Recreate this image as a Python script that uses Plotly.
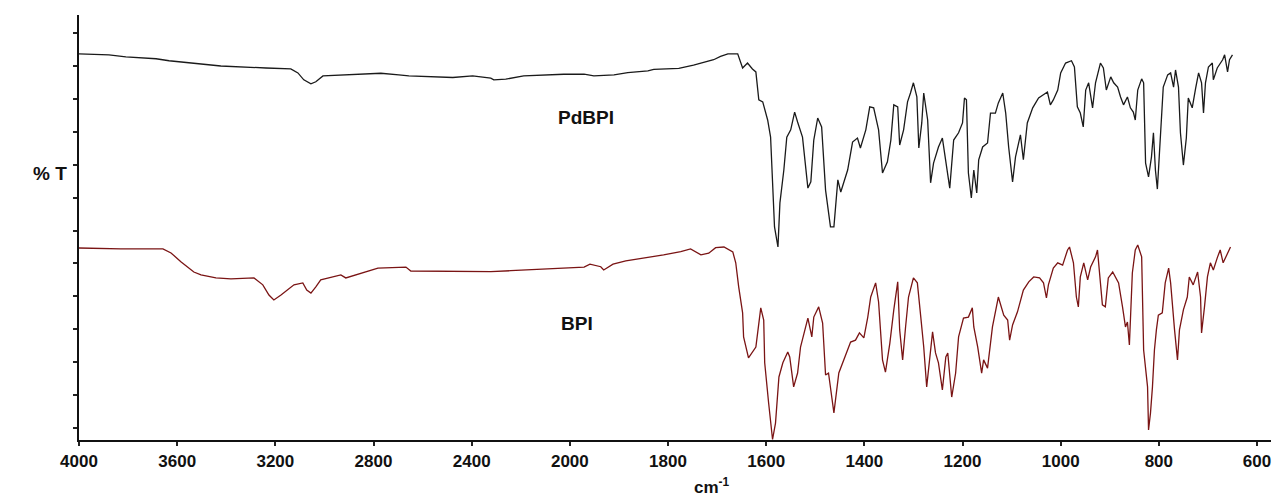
import numpy as np
import plotly.graph_objects as go

# FTIR spectra (wavenumber in cm-1, transmittance in arbitrary offset units)
pdbpi_wn = [4000, 3878, 3809, 3686, 3633, 3544, 3422, 3238, 3137, 3108, 3084, 3055, 3035, 3006,
            2913, 2791, 2770, 2697, 2656, 2477, 2396, 2322, 2310, 2261, 2188, 2025,
            1971, 1951, 1910, 1882, 1841, 1829, 1778, 1748, 1733, 1707, 1693, 1678, 1658,
            1648, 1638, 1628, 1621, 1615, 1607, 1597, 1591, 1587, 1583, 1576, 1572, 1564,
            1558, 1550, 1542, 1536, 1526, 1515, 1509, 1503, 1495, 1487, 1479, 1469, 1462,
            1454, 1448, 1434, 1424, 1414, 1408, 1397, 1389, 1381, 1371, 1363, 1353, 1346,
            1340, 1332, 1328, 1320, 1312, 1306, 1300, 1293, 1289, 1283, 1279, 1271, 1265,
            1259, 1249, 1241, 1234, 1226, 1218, 1208, 1200, 1196, 1192, 1188, 1182, 1177,
            1171, 1167, 1159, 1149, 1143, 1133, 1127, 1118, 1112, 1106, 1098, 1092, 1082,
            1076, 1068, 1057, 1045, 1027, 1021, 1015, 1006, 1000, 990, 978, 972, 966, 960,
            954, 949, 943, 935, 929, 919, 913, 907, 898, 892, 884, 878, 872, 864, 858, 852,
            848, 843, 835, 831, 827, 821, 815, 811, 807, 803, 799, 795, 791, 782, 776, 770,
            766, 760, 756, 750, 744, 740, 732, 725, 719, 713, 709, 705, 699, 691, 689, 681,
            670, 666, 660, 656, 650]
pdbpi_t = [113.7, 113.4, 112.8, 112.2, 111.6, 110.9, 110.0, 109.4, 109.1, 107.9, 105.8, 104.6, 105.2, 107.0,
           107.3, 107.6, 107.8, 107.3, 107.0, 106.5, 107.0, 106.3, 105.8, 106.0, 107.0, 107.5,
           107.5, 107.0, 107.3, 108.0, 108.5, 109.0, 109.3, 110.3, 110.8, 111.9, 112.9, 113.7, 113.7,
           109.4, 110.9, 109.1, 108.2, 99.7, 99.1, 93.6, 88.4, 75.4, 61.1, 55.0, 68.4, 78.4,
           88.4, 90.6, 96.0, 93.0, 88.4, 72.9, 74.8, 87.5, 94.2, 91.5, 72.3, 61.1, 61.1,
           75.4, 71.7, 78.4, 86.9, 88.1, 85.1, 90.6, 97.6, 97.3, 90.6, 77.5, 80.9, 87.5,
           98.2, 97.6, 86.0, 90.6, 99.1, 101.8, 104.9, 100.6, 85.1, 92.7, 101.8, 93.6, 74.5,
           80.5, 85.4, 88.1, 80.5, 72.9, 87.5, 89.7, 92.7, 100.3, 99.7, 77.5, 69.9, 78.4,
           71.4, 81.5, 85.4, 86.6, 95.7, 95.7, 98.8, 101.8, 95.7, 85.4, 74.8, 82.4, 89.1,
           81.5, 92.7, 97.3, 100.3, 102.1, 98.2, 99.7, 102.7, 107.9, 110.9, 111.6, 109.7, 97.6, 95.7,
           91.5, 102.7, 104.9, 97.3, 104.9, 110.9, 109.4, 102.7, 106.7, 104.9, 103.6, 100.6, 98.2, 100.6, 97.3, 96.0,
           93.6, 102.7, 106.1, 104.9, 80.5, 76.3, 82.4, 89.7, 78.4, 72.6, 82.4, 91.2, 103.6, 107.3, 107.9, 103.6,
           108.8, 103.6, 89.7, 79.9, 88.1, 100.3, 97.3, 103.3, 107.9, 104.9, 95.7, 104.9, 109.7, 110.9, 105.8, 109.4,
           111.9, 113.4, 108.2, 111.9, 113.4]

bpi_wn = [4000, 3829, 3658, 3625, 3585, 3532, 3503, 3442, 3381, 3287, 3251, 3226, 3206, 3177,
          3124, 3088, 3072, 3055, 3035, 3015, 2933, 2913, 2782, 2668, 2648, 2322, 2241, 2131, 2025,
          1971, 1959, 1937, 1931, 1912, 1886, 1849, 1809, 1774, 1754, 1733, 1717, 1703, 1686,
          1668, 1662, 1656, 1648, 1646, 1636, 1621, 1611, 1605, 1603, 1595, 1587, 1581, 1574,
          1566, 1556, 1552, 1544, 1536, 1530, 1515, 1507, 1503, 1493, 1485, 1479, 1473, 1462,
          1452, 1442, 1428, 1418, 1410, 1401, 1393, 1387, 1377, 1371, 1363, 1357, 1348, 1340,
          1332, 1328, 1322, 1316, 1310, 1300, 1292, 1285, 1279, 1273, 1267, 1261, 1255, 1249,
          1241, 1234, 1230, 1222, 1214, 1208, 1198, 1188, 1180, 1177, 1169, 1161, 1157, 1149,
          1139, 1133, 1127, 1116, 1108, 1104, 1098, 1088, 1076, 1065, 1055, 1043, 1035, 1029,
          1025, 1015, 1006, 996, 986, 982, 974, 968, 964, 960, 953, 945, 939, 929, 925, 919,
          915, 909, 903, 894, 888, 882, 874, 868, 864, 860, 854, 848, 843, 835, 831, 823, 821,
          817, 813, 809, 805, 801, 793, 787, 780, 776, 768, 762, 758, 750, 742, 738, 730, 721,
          715, 713, 707, 701, 695, 689, 681, 675, 669, 660, 654]
bpi_t = [54.7, 54.4, 54.4, 53.2, 50.5, 47.4, 46.5, 45.6, 45.3, 45.6, 43.5, 40.4, 38.9, 40.4,
         43.5, 44.1, 41.9, 41.0, 42.9, 45.0, 46.5, 45.6, 48.6, 48.9, 47.7, 47.5, 47.8, 48.2, 48.7,
         48.9, 49.8, 49.0, 48.0, 49.8, 50.8, 51.6, 52.6, 53.6, 54.4, 52.6, 53.1, 54.8, 55.0,
         53.5, 50.2, 42.9, 35.0, 27.7, 21.3, 24.6, 36.5, 32.8, 19.8, 7.6, -3.5, 1.5, 15.5,
         19.8, 23.1, 21.6, 12.5, 16.7, 24.6, 33.4, 27.7, 33.7, 36.8, 31.9, 16.1, 16.7, 4.6,
         16.7, 20.7, 26.1, 26.7, 28.9, 27.4, 33.7, 39.8, 44.1, 38.3, 20.7, 17.0, 25.8, 35.9,
         44.4, 29.8, 20.7, 30.7, 39.8, 45.6, 44.1, 33.7, 24.6, 12.5, 21.6, 29.2, 22.8, 19.8,
         11.6, 21.6, 22.8, 9.4, 16.7, 27.7, 33.4, 33.7, 36.5, 30.7, 24.6, 16.7, 20.7, 18.2,
         30.7, 35.9, 39.8, 34.3, 32.8, 26.7, 31.3, 35.3, 41.9, 44.4, 45.9, 45.6, 44.1, 39.5,
         43.5, 48.6, 50.2, 49.5, 54.1, 55.0, 50.2, 39.8, 36.8, 45.9, 50.2, 45.0, 48.9, 52.0, 54.1, 44.1,
         37.4, 36.8, 45.6, 47.4, 45.9, 44.1, 36.8, 30.7, 32.2, 25.2, 47.1, 54.1, 55.6, 52.0, 23.7, 12.5, -0.6,
         4.6, 12.5, 23.7, 29.8, 34.3, 35.0, 44.1, 48.6, 44.1, 29.8, 20.7, 29.8, 35.9, 39.8, 45.9, 43.5, 47.4,
         39.8, 28.9, 36.8, 45.9, 50.2, 48.0, 51.7, 54.1, 50.2, 53.2, 55.0]

tick_wn = [4000, 3600, 3200, 2800, 2400, 2000, 1800, 1600, 1400, 1200, 1000, 800, 600]
y_ticks = list(range(0, 130, 10))


def to_axis(wn):
    """Map wavenumber onto the drawing axis: 2x expansion below 2000 cm-1."""
    wn = np.asarray(wn, dtype=float)
    return np.where(wn >= 2000, 4000 - wn, 2000 + 2 * (2000 - wn))


FONT = "Arial, Liberation Sans, sans-serif"

fig = go.Figure()
fig.add_trace(go.Scatter(x=to_axis(pdbpi_wn), y=pdbpi_t, mode="lines", name="PdBPI",
                         line=dict(color="#1a1a1a", width=1.3)))
fig.add_trace(go.Scatter(x=to_axis(bpi_wn), y=bpi_t, mode="lines", name="BPI",
                         line=dict(color="#7a1414", width=1.3)))

fig.add_annotation(x=float(to_axis(1967)), y=94.5, text="<b>PdBPI</b>", showarrow=False,
                   font=dict(family=FONT, size=19, color="#111"))
fig.add_annotation(x=float(to_axis(1986)), y=31.9, text="<b>BPI</b>", showarrow=False,
                   font=dict(family=FONT, size=19, color="#111"))
fig.add_annotation(xref="paper", yref="paper", x=-0.040, y=0.628, text="<b>% T</b>",
                   showarrow=False, font=dict(family=FONT, size=19, color="#111"))
fig.add_annotation(xref="paper", yref="paper", x=0.531, y=-0.108, yanchor="middle",
                   text="<b>cm<sup>-1</sup></b>", showarrow=False,
                   font=dict(family=FONT, size=17, color="#111"))

fig.update_xaxes(range=[0, 4857], tickmode="array", tickvals=to_axis(tick_wn),
                 ticktext=[str(t) for t in tick_wn], ticks="outside", ticklen=4, tickwidth=1.5,
                 tickcolor="#222", showline=True, linecolor="#111", linewidth=2,
                 showgrid=False, zeroline=False, ticklabelstandoff=1,
                 tickfont=dict(family=FONT, size=17, color="#111", weight="bold"))
fig.update_yaxes(range=[-3.65, 125.5], tickmode="array", tickvals=y_ticks, ticks="outside",
                 ticklen=4, tickwidth=1.5, tickcolor="#222", showticklabels=False,
                 showline=True, linecolor="#111", linewidth=2, showgrid=False, zeroline=False)

fig.update_layout(width=1276, height=497, autosize=False, showlegend=False,
                  margin=dict(l=79, r=5, t=15, b=57),
                  paper_bgcolor="white", plot_bgcolor="white")

fig.write_html("out.html")
